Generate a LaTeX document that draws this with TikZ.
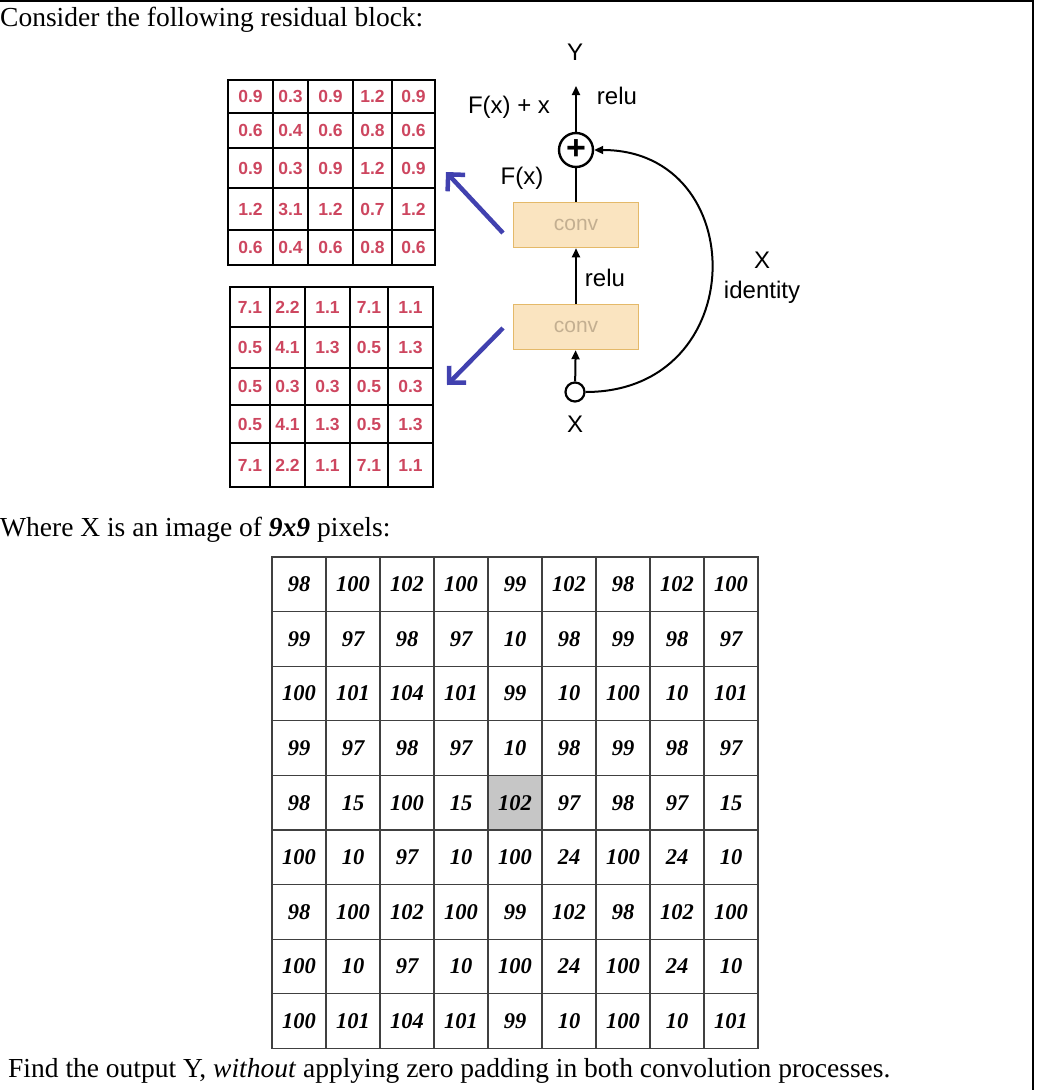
\documentclass[tikz,border=0pt]{standalone}
\usepackage{fontspec}
\setmainfont{Liberation Serif}
\setsansfont{Liberation Sans}
\usepackage{tikz}
\usetikzlibrary{arrows.meta}
\definecolor{cellred}{RGB}{205,70,95}
\definecolor{arrowblue}{RGB}{65,65,175}
\definecolor{convfill}{RGB}{250,228,192}
\definecolor{convdraw}{RGB}{228,185,105}
\definecolor{convtext}{RGB}{195,175,145}

\begin{document}
\begin{tikzpicture}[x=1pt,y=-1pt,
    fxcell/.style={draw,line width=2.6pt,inner sep=0pt,outer sep=0pt,text=cellred,font=\sffamily\bfseries\fontsize{17.5}{17.5}\selectfont},
    imgcell/.style={draw=black!75,line width=1.3pt,minimum width=54pt,minimum height=54.6pt,inner sep=0pt,outer sep=0pt,font=\rmfamily\bfseries\itshape\fontsize{22.5}{22.5}\selectfont},
    conv node/.style={draw=convdraw,fill=convfill,line width=1.5pt,minimum width=125pt,minimum height=45pt,text=convtext,font=\sffamily\fontsize{21}{21}\selectfont},
    lbl/.style={font=\sffamily\fontsize{24}{30}\selectfont},
    txt/.style={font=\fontsize{27.5}{30}\selectfont,anchor=west,inner sep=0pt},
    arr/.style={-{Triangle[length=9pt,width=8pt]},line width=2pt},
    blue arr/.style={-{Straight Barb[length=12pt,width=24pt]},line width=4.5pt,arrowblue}]

\useasboundingbox (0,0) rectangle (1038,1090);
% frame of the table cell
\draw[line width=2pt] (0,1) -- (1033,1) -- (1033,1090);

% question text
\node[txt] (intro) at (0,20) {Consider the following residual block:};
\node[txt] (where) at (0,530) {Where X is an image of \textbf{\textit{9x9}} pixels:};
\node[txt] (task) at (8,1071) {Find the output Y, \textit{without} applying zero padding in both convolution processes.};

% upper filter
\foreach \row [count=\j from 0] in {{0.9,0.3,0.9,1.2,0.9},{0.6,0.4,0.6,0.8,0.6},{0.9,0.3,0.9,1.2,0.9},{1.2,3.1,1.2,0.7,1.2},{0.6,0.4,0.6,0.8,0.6}}{
  \foreach \v [count=\i from 0] in \row {
    \pgfmathsetmacro\xa{{228,273,308,353,392,435}[\i]}
    \pgfmathsetmacro\xb{{228,273,308,353,392,435}[\i+1]}
    \pgfmathsetmacro\ya{{80,113,148,188,230,265}[\j]}
    \pgfmathsetmacro\yb{{80,113,148,188,230,265}[\j+1]}
    \node[fxcell,minimum width=\xb-\xa,minimum height=\yb-\ya] (fa-\j-\i) at ({(\xa+\xb)/2},{(\ya+\yb)/2}) {\v};
  }
}
% lower filter
\foreach \row [count=\j from 0] in {{7.1,2.2,1.1,7.1,1.1},{0.5,4.1,1.3,0.5,1.3},{0.5,0.3,0.3,0.5,0.3},{0.5,4.1,1.3,0.5,1.3},{7.1,2.2,1.1,7.1,1.1}}{
  \foreach \v [count=\i from 0] in \row {
    \pgfmathsetmacro\xa{{230,270,305,350,388,433}[\i]}
    \pgfmathsetmacro\xb{{230,270,305,350,388,433}[\i+1]}
    \pgfmathsetmacro\ya{{287,327,368,405,443,487}[\j]}
    \pgfmathsetmacro\yb{{287,327,368,405,443,487}[\j+1]}
    \node[fxcell,minimum width=\xb-\xa,minimum height=\yb-\ya] (fb-\j-\i) at ({(\xa+\xb)/2},{(\ya+\yb)/2}) {\v};
  }
}

% residual block
\node[lbl] (Y) at (575,52) {Y};
\node[circle,draw,line width=2.4pt,minimum size=34pt,inner sep=0pt,font=\sffamily\bfseries\fontsize{34}{34}\selectfont] (plus) at (576,150) {+};
\node[conv node] (conv2) at (576,225) {conv};
\node[conv node] (conv1) at (576,327) {conv};
\node[circle,draw,line width=2.2pt,minimum size=19pt,inner sep=0pt] (xin) at (575,392) {};
\node[lbl] (xlbl) at (575,424) {X};
\node[lbl] (relutop) at (617,96) {relu};
\node[lbl] (fxx) at (509,107) {F(x) + x};
\node[lbl] (fx) at (522,178) {F(x)};
\node[lbl] (relumid) at (605,278) {relu};
\node[lbl,align=center] (ident) at (762,278) {X\\identity};
\coordinate (ytip) at (576,86);

\path[arr] (xin) edge (conv1)
           (conv1) edge (conv2)
           (plus) edge (ytip);
\draw[line width=2pt] (conv2) -- (plus);
\draw[arr] (xin.east) .. controls (752,392) and (752,150) .. (plus.east);

% blue pointers to the filters
\coordinate (b1s) at (503,233); \coordinate (b1e) at (446,172);
\coordinate (b2s) at (503,328); \coordinate (b2e) at (447,385);
\draw[blue arr] (b1s) -- (b1e);
\draw[blue arr] (b2s) -- (b2e);

% input image
\fill[gray!45] (488,775.4) rectangle (542,830);
\foreach \row [count=\j from 0] in {{98,100,102,100,99,102,98,102,100},{99,97,98,97,10,98,99,98,97},{100,101,104,101,99,10,100,10,101},{99,97,98,97,10,98,99,98,97},{98,15,100,15,102,97,98,97,15},{100,10,97,10,100,24,100,24,10},{98,100,102,100,99,102,98,102,100},{100,10,97,10,100,24,100,24,10},{100,101,104,101,99,10,100,10,101}}{
  \foreach \v [count=\i from 0] in \row {
    \node[imgcell] (x-\j-\i) at ({299+54*\i},{584.3+54.6*\j}) {\v};
  }
}
\end{tikzpicture}
\end{document}
